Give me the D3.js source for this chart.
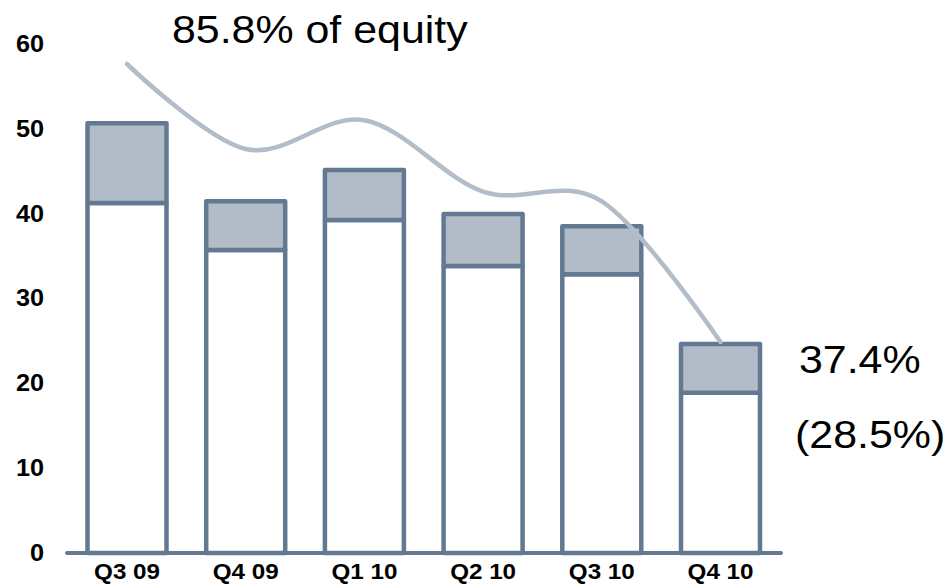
<!DOCTYPE html>
<html>
<head>
<meta charset="utf-8">
<script src="https://cdn.jsdelivr.net/npm/d3@7"></script>
<style>
  html, body { margin: 0; padding: 0; background: #fff; }
  svg { display: block; }
</style>
</head>
<body>
<svg id="chart" width="944" height="584"></svg>
<script>
// ---- data ----
const categories = ["Q3 09", "Q4 09", "Q1 10", "Q2 10", "Q3 10", "Q4 10"];
const lowerValues = [41.3, 35.75, 39.3, 33.85, 32.9, 18.9];
const totalValues = [50.7, 41.5, 45.2, 40.0, 38.55, 24.65];
const equityRatio = [85.8, 71.0, 76.0, 63.6, 61.9, 37.4]; // % of equity (line)
const yTicks = [0, 10, 20, 30, 40, 50, 60];
const startLabel = "85.8% of equity";
const endLabel = "37.4%";
const endSubLabel = "(28.5%)";

// ---- styles ----
const dark = "#637991";
const lightFill = "#b2bcc8";
const lineColor = "#b3bdc9";
const sx = 1.1; // horizontal text stretch

const svg = d3.select("#chart");

const x = d3.scaleBand().domain(categories).range([47.8, 799.7]).padding(0.3345);
const y = d3.scaleLinear().domain([0, 60]).range([553, 44.5]);
const y2 = d3.scaleLinear().domain([37.4, 85.8]).range([342, 64]);

// bars
const g = svg.append("g");
categories.forEach((c, i) => {
  const x0 = x(c), w = x.bandwidth();
  g.append("rect")
    .attr("x", x0).attr("width", w)
    .attr("y", y(lowerValues[i])).attr("height", y(0) - y(lowerValues[i]))
    .attr("fill", "#fff").attr("stroke", dark).attr("stroke-width", 4.5)
    .attr("stroke-linejoin", "round");
  g.append("rect")
    .attr("x", x0).attr("width", w)
    .attr("y", y(totalValues[i])).attr("height", y(lowerValues[i]) - y(totalValues[i]))
    .attr("fill", lightFill).attr("stroke", dark).attr("stroke-width", 4.5)
    .attr("stroke-linejoin", "round");
});

// baseline axis
svg.append("line")
  .attr("x1", 67).attr("x2", 781)
  .attr("y1", y(0)).attr("y2", y(0))
  .attr("stroke", dark).attr("stroke-width", 4).attr("stroke-linecap", "round");

// line (smoothed)
const line = d3.line()
  .x((d, i) => x(categories[i]) + x.bandwidth() / 2)
  .y(d => y2(d))
  .curve(d3.curveCardinal.tension(0));
svg.append("path")
  .attr("d", line(equityRatio))
  .attr("fill", "none").attr("stroke", lineColor).attr("stroke-width", 4.5)
  .attr("stroke-linecap", "round").attr("stroke-linejoin", "round");

// helper for stretched text
function stretchedText(tx, ty, txt, opts) {
  return svg.append("text")
    .attr("transform", `translate(${tx},${ty}) scale(${sx},1)`)
    .attr("font-family", "Liberation Sans, Arial, sans-serif")
    .attr("font-size", opts.size)
    .attr("font-weight", opts.weight || "normal")
    .attr("text-anchor", opts.anchor || "start")
    .attr("fill", "#000")
    .text(txt);
}

// y tick labels
yTicks.forEach(v => {
  stretchedText(44, y(v) + 7.5, String(v), { size: 23, weight: "bold", anchor: "end" });
});

// x labels
categories.forEach(c => {
  stretchedText(x(c) + x.bandwidth() / 2, 579, c, { size: 22, weight: "bold", anchor: "middle" });
});

// annotations
stretchedText(172, 43, startLabel, { size: 39, anchor: "start" });
stretchedText(799, 373, endLabel, { size: 39, anchor: "start" });
stretchedText(795, 448, endSubLabel, { size: 39, anchor: "start" });
</script>
</body>
</html>
